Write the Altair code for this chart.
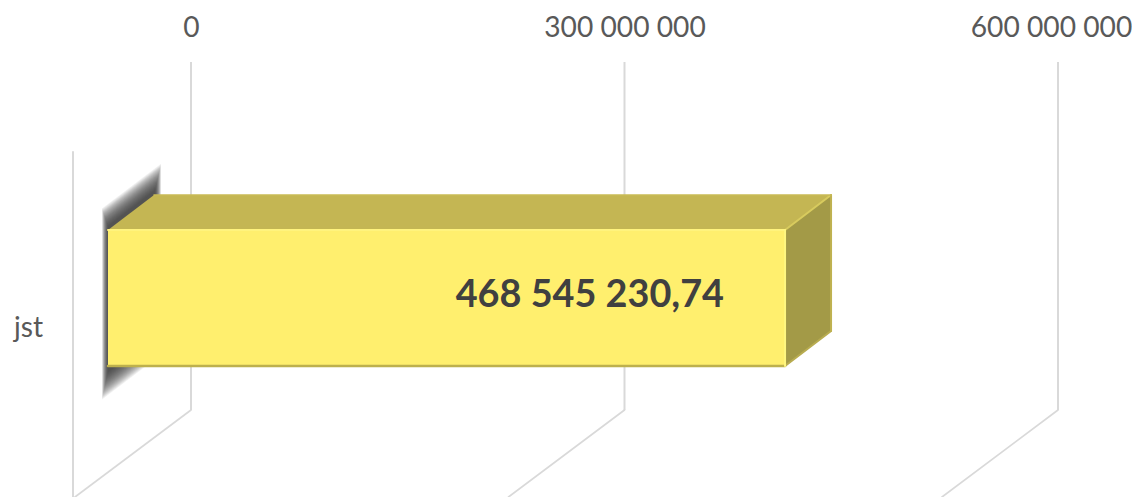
import altair as alt
import pandas as pd

# values
categories = ["jst"]
series_values = [468545230.74]
value_labels = ["468 545 230,74"]
tick_values = [0, 300000000, 600000000]

W, H = 1124, 489
PX = 433.5 / 3e8            # px per value unit
EPX = 136.0                 # px per elevation unit (bar height = 1)
X_DOM = [(8 - 191) / PX, (1132 - 191) / PX]
Y_DOM = [(366 - 497) / EPX, (366 - 8) / EPX]
SHIFT = (108 - 191) / PX    # front-plane offset of the zero line
DX = 46 / PX                # depth in value units
DE = 35 / EPX               # depth in elevation units
BACK_FLOOR = -44 / EPX
BACK_TOP = 304 / EPX
WALL_TOP = 214 / EPX
WALL_X = (73 - 191) / PX

xs = alt.Scale(domain=X_DOM, nice=False, zero=False)
ys = alt.Scale(domain=Y_DOM, nice=False, zero=False)
x_axis = alt.Axis(
    orient="top", values=tick_values, grid=False, domain=False, ticks=False,
    offset=-34, labelPadding=0, labelFontSize=28.2, labelFont="Lato",
    labelColor="#595959", labelFlush=False, labelOverlap=False, labelBound=False,
    labelOffset={"condition": {"test": f"datum.value == {tick_values[-1]}", "value": -7}, "value": 0},
    labelExpr="replace(format(datum.value, ','), /,/g, ' ')")


def X(f="x"):
    return alt.X(f + ":Q", scale=xs, axis=x_axis, title=None)


def Y(f="y"):
    return alt.Y(f + ":Q", scale=ys, axis=None, title=None)


def line(points, color, width):
    d = pd.DataFrame(points, columns=["x", "y", "g"])
    d["o"] = range(len(d))
    return alt.Chart(d).mark_line(color=color, strokeWidth=width, strokeCap="round").encode(
        x=X(), y=Y(), detail="g:N", order=alt.Order("o:Q")
    )


def area(d, color, opacity=1.0):
    return alt.Chart(d).mark_area(color=color, opacity=opacity, orient="vertical").encode(
        x=X(), y=Y(), y2=alt.Y2("y2")
    )


# grid on the back wall
grid = pd.DataFrame({"x": tick_values, "y": [BACK_FLOOR] * 3, "y2": [BACK_TOP] * 3})
grid_layer = alt.Chart(grid).mark_rule(color="#D9D9D9", strokeWidth=2).encode(
    x=X(), y=Y(), y2=alt.Y2("y2"),
)

floor_pts = []
for i, t in enumerate(tick_values):
    floor_pts += [(t, BACK_FLOOR, i), (t - 116 / PX, BACK_FLOOR - 87 / EPX, i)]
floor_layer = line(floor_pts, "#D9D9D9", 1.7)
wall_layer = line([(WALL_X, WALL_TOP, 9), (WALL_X, Y_DOM[0], 9)], "#D9D9D9", 2)

# soft shadow: nested translucent parallelograms, a linear fade outward
shadow_layers = []
STEPS = 23
for i in range(STEPS):
    t = 1 - i / (STEPS - 1)
    left, right = -6 * t, 47 + 6 * t     # px from the front-left edge
    xl, xr = SHIFT + left / PX, SHIFT + right / PX
    low = -(6 + 23 * t) / EPX
    up = 1 + (4 + 22 * t) / EPX
    d = pd.DataFrame({
        "x": [xl, xr],
        "y": [low + left * 0.76 / EPX, low + right * 0.76 / EPX],
        "y2": [up + left * 0.76 / EPX, up + right * 0.76 / EPX],
    })
    shadow_layers.append(area(d, "#303030", 0.065))

v = series_values[0]
fx0, fx1 = SHIFT, v + SHIFT
top_face = pd.DataFrame({
    "x": [fx0, fx0 + DX, fx1, fx1 + DX],
    "y": [1, 1, 1, 1 + DE],
    "y2": [1, 1 + DE, 1 + DE, 1 + DE],
})
right_face = pd.DataFrame({
    "x": [fx1, fx1 + DX],
    "y": [0, DE],
    "y2": [1, 1 + DE],
})
front = pd.DataFrame({"cat": categories, "x": [fx0], "x2": [fx1], "y": [0], "y2": [1]})

top_layer = area(top_face, "#C4B653")
right_layer = area(right_face, "#A39A47")
front_layer = alt.Chart(front).mark_rect(color="#FFEF6E").encode(
    x=X(), x2=alt.X2("x2"), y=Y(), y2=alt.Y2("y2"))

edges = [
    line([(fx1, 1, 0), (fx1 + DX, 1 + DE, 0)], "#D8CB5E", 2),
    line([(fx1, 0, 0), (fx1 + DX, DE, 0)], "#B8AC50", 2),
    line([(fx1 + DX, DE, 0), (fx1 + DX, 1 + DE, 0)], "#BFB250", 2),
    line([(fx0 + DX, 1 + DE, 0), (fx1 + DX, 1 + DE, 0)], "#C9BB55", 1.5),
    line([(fx0, 0, 0), (fx1, 0, 0)], "#BDB04D", 2.5),
    line([(fx0, 1, 0), (fx1, 1, 0)], "#FFF37E", 2),
    line([(fx1, 0, 0), (fx1, 1, 0)], "#FFF680", 2),
]

value_text = pd.DataFrame({"x": [fx1], "y": [0.515], "t": value_labels})
value_layer = alt.Chart(value_text).mark_text(
    font="Lato", fontWeight="bold", fontSize=37.8, color="#404040",
    align="right", baseline="middle", dx=-61
).encode(x=X(), y=Y(), text="t:N")

cat_text = pd.DataFrame({"x": [(14 - 191) / PX], "y": [(366 - 329) / EPX], "t": categories})
cat_layer = alt.Chart(cat_text).mark_text(
    font="Lato", fontSize=28.2, color="#595959", align="left", baseline="middle"
).encode(x=X(), y=Y(), text="t:N")

chart = alt.layer(
    grid_layer, floor_layer, wall_layer, *shadow_layers,
    top_layer, right_layer, front_layer, *edges, value_layer, cat_layer
).properties(
    width=W, height=H, padding=0,
    autosize=alt.AutoSizeParams(type="none"),
    background="#FFFFFF",
).configure_view(stroke=None)

chart.save("out.html", embed_options={"renderer": "svg", "actions": False})
